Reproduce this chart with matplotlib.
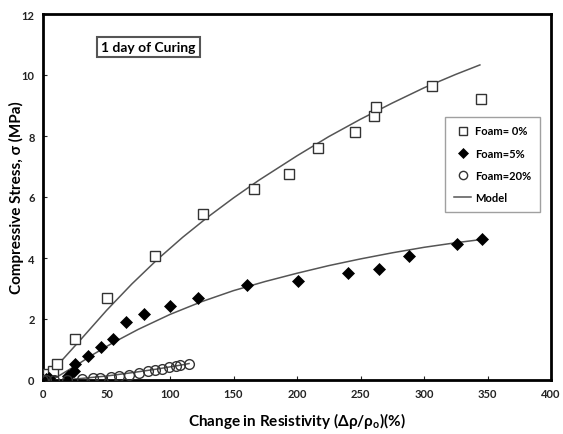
import matplotlib
matplotlib.use("Agg")
import matplotlib.pyplot as plt

plt.rcParams['font.family'] = ['Lato', 'DejaVu Sans']
plt.rcParams['mathtext.fontset'] = 'custom'
plt.rcParams['mathtext.rm'] = 'Lato:bold'
plt.rcParams['mathtext.it'] = 'Lato:bold'
plt.rcParams['mathtext.bf'] = 'Lato:bold'

# measured points, foam 0 %
x_f0 = [0, 1.4, 4.3, 7.5, 11.3, 25, 50.2, 88, 125.7, 166, 193.8, 216.5, 245.4, 260.4, 262.4, 306.4, 344.7]
y_f0 = [0, 0.03, 0.2, 0.3, 0.52, 1.34, 2.68, 4.07, 5.43, 6.25, 6.77, 7.61, 8.13, 8.66, 8.95, 9.64, 9.21]

# foam 5 %
x_f5 = [0, 2, 5, 19.9, 24.1, 25.5, 35.5, 45.4, 54.8, 65.2, 79.4, 99.9, 122, 160.3, 200.6, 240.3, 264.7, 288, 326, 346]
y_f5 = [0, 0.02, 0.05, 0.14, 0.28, 0.52, 0.8, 1.07, 1.34, 1.91, 2.16, 2.43, 2.7, 3.12, 3.25, 3.52, 3.65, 4.07, 4.47, 4.61]

# foam 20 %
x_f20 = [0, 2, 9, 19, 30.6, 39.7, 44.5, 53.9, 59.6, 68, 75.2, 82.3, 88, 93.6, 99.3, 105, 107.8, 114.9]
y_f20 = [0, 0, 0, 0, 0.03, 0.07, 0.07, 0.11, 0.14, 0.17, 0.22, 0.28, 0.33, 0.36, 0.41, 0.47, 0.49, 0.54]

# model curves
mx_f0 = [0, 10, 20, 30, 50, 70, 90, 110, 130, 150, 170, 200, 225, 250, 275, 300, 325, 344]
my_f0 = [0, 0.42, 0.88, 1.34, 2.28, 3.15, 3.95, 4.68, 5.35, 5.97, 6.55, 7.35, 7.98, 8.55, 9.08, 9.58, 10.02, 10.33]

mx_f5 = [7, 15, 25, 40, 55, 75, 100, 125, 150, 175, 200, 225, 250, 275, 300, 325, 344]
my_f5 = [0, 0.2, 0.45, 0.85, 1.22, 1.66, 2.15, 2.57, 2.93, 3.23, 3.5, 3.75, 3.97, 4.17, 4.35, 4.5, 4.6]

mx_f20 = [15, 30, 50, 70, 90, 110, 115]
my_f20 = [0, 0.05, 0.13, 0.24, 0.36, 0.5, 0.54]

edge = '#333333'
linec = '#555555'

fig = plt.figure(figsize=(5.63, 4.35), dpi=100)
ax = fig.add_axes([43/563, 1 - 381/435, 508/563, 366/435])

ax.plot(mx_f0, my_f0, color=linec, lw=1.1, zorder=2)
ax.plot(mx_f5, my_f5, color=linec, lw=1.1, zorder=2)
ax.plot(mx_f20, my_f20, color=linec, lw=1.1, zorder=2)

ax.plot(x_f0, y_f0, 's', ms=7, mfc='white', mec=edge, mew=1, label='Foam= 0%', zorder=3)
ax.plot(x_f5, y_f5, 'D', ms=6.5, mfc='black', mec='black', mew=0.5, label='Foam=5%', zorder=3)
ax.plot(x_f20, y_f20, 'o', ms=7, mfc='none', mec=edge, mew=1, label='Foam=20%', zorder=3)
ax.plot([], [], color=linec, lw=1.1, label='Model')

ax.set_xlim(0, 400)
ax.set_ylim(0, 12)
ax.set_xticks(range(0, 401, 50))
ax.set_yticks(range(0, 13, 2))
ax.tick_params(direction='in', length=3, width=0.8, labelsize=8, pad=6, colors='#222222')
for lab in ax.get_xticklabels() + ax.get_yticklabels():
    lab.set_fontweight('bold')
for s in ax.spines.values():
    s.set_linewidth(2)
    s.set_color('black')

ax.set_xlabel('Change in Resistivity (Δρ/ρ$_{o}$)(%)', fontsize=11, fontweight='bold')
ax.set_ylabel('Compressive Stress, σ (MPa)', fontsize=11, fontweight='bold')
ax.xaxis.set_label_coords(0.5, -0.083)
ax.yaxis.set_label_coords(-0.037, 0.5)

ax.text(0.207, 0.91, '1 day of Curing', transform=ax.transAxes, ha='center', va='center',
        fontsize=10, fontweight='bold',
        bbox=dict(boxstyle='square,pad=0.3', fc='white', ec='#555555', lw=1.5))

leg = ax.legend(loc='upper left', bbox_to_anchor=(0.78, 0.735), frameon=True, fancybox=False,
                edgecolor='#888888', prop={'weight': 'bold', 'size': 8},
                handlelength=1.6, handletextpad=0.3, labelspacing=1.0, borderpad=0.8,
                markerscale=0.85)
leg.get_frame().set_linewidth(1)

fig.savefig('out.png', dpi=100)
